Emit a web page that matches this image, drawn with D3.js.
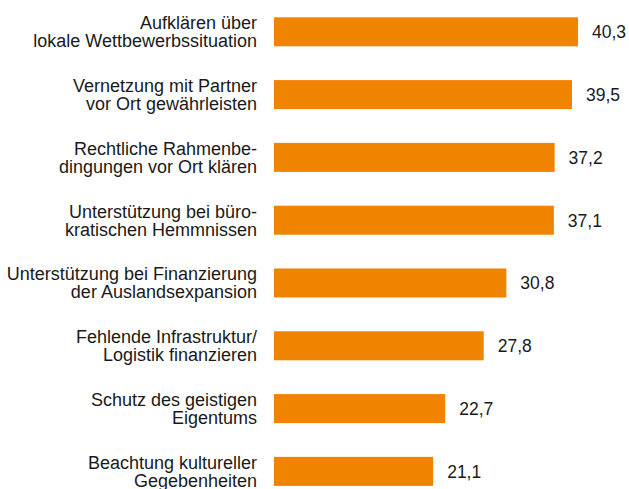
<!DOCTYPE html>
<html>
<head>
<meta charset="utf-8">
<script src="https://cdn.jsdelivr.net/npm/d3@7"></script>
<style>
html,body{margin:0;padding:0;background:#fff;}
svg{display:block;}
text{font-family:"Liberation Sans", Arial, sans-serif;fill:#1a1a1a;}
</style>
</head>
<body>
<svg id="chart" width="629" height="489"></svg>
<script>
const categories = [
  ["Aufklären über", "lokale Wettbewerbssituation"],
  ["Vernetzung mit Partner", "vor Ort gewährleisten"],
  ["Rechtliche Rahmenbe-", "dingungen vor Ort klären"],
  ["Unterstützung bei büro-", "kratischen Hemmnissen"],
  ["Unterstützung bei Finanzierung", "der Auslandsexpansion"],
  ["Fehlende Infrastruktur/", "Logistik finanzieren"],
  ["Schutz des geistigen", "Eigentums"],
  ["Beachtung kultureller", "Gegebenheiten"]
];
const values = [40.3, 39.5, 37.2, 37.1, 30.8, 27.8, 22.7, 21.1];
const valueLabels = ["40,3", "39,5", "37,2", "37,1", "30,8", "27,8", "22,7", "21,1"];

const svg = d3.select("#chart");
const idx = d3.range(values.length);

const y = d3.scaleBand()
  .domain(idx)
  .range([17.3, 485.9])
  .paddingInner(0.538)
  .paddingOuter(0);

const x = d3.scaleLinear()
  .domain([0, 40.3])
  .range([274, 578]);

svg.selectAll("rect.bar")
  .data(idx)
  .join("rect")
  .attr("class", "bar")
  .attr("x", x(0))
  .attr("y", i => y(i))
  .attr("width", i => x(values[i]) - x(0))
  .attr("height", y.bandwidth())
  .attr("fill", "#f08300");

svg.selectAll("text.val")
  .data(idx)
  .join("text")
  .attr("class", "val")
  .attr("x", i => x(values[i]) + 14)
  .attr("y", i => y(i) + y.bandwidth() / 2 + 6.5)
  .attr("font-size", 17.5)
  .text(i => valueLabels[i]);

const lab = svg.selectAll("text.cat")
  .data(idx)
  .join("text")
  .attr("class", "cat")
  .attr("text-anchor", "end")
  .attr("font-size", 18)
  .attr("y", i => y(i) + y.bandwidth() / 2 - 2.5);

lab.selectAll("tspan")
  .data(i => categories[i])
  .join("tspan")
  .attr("x", 257)
  .attr("dy", (d, j) => j === 0 ? 0 : 18)
  .text(d => d);
</script>
</body>
</html>
